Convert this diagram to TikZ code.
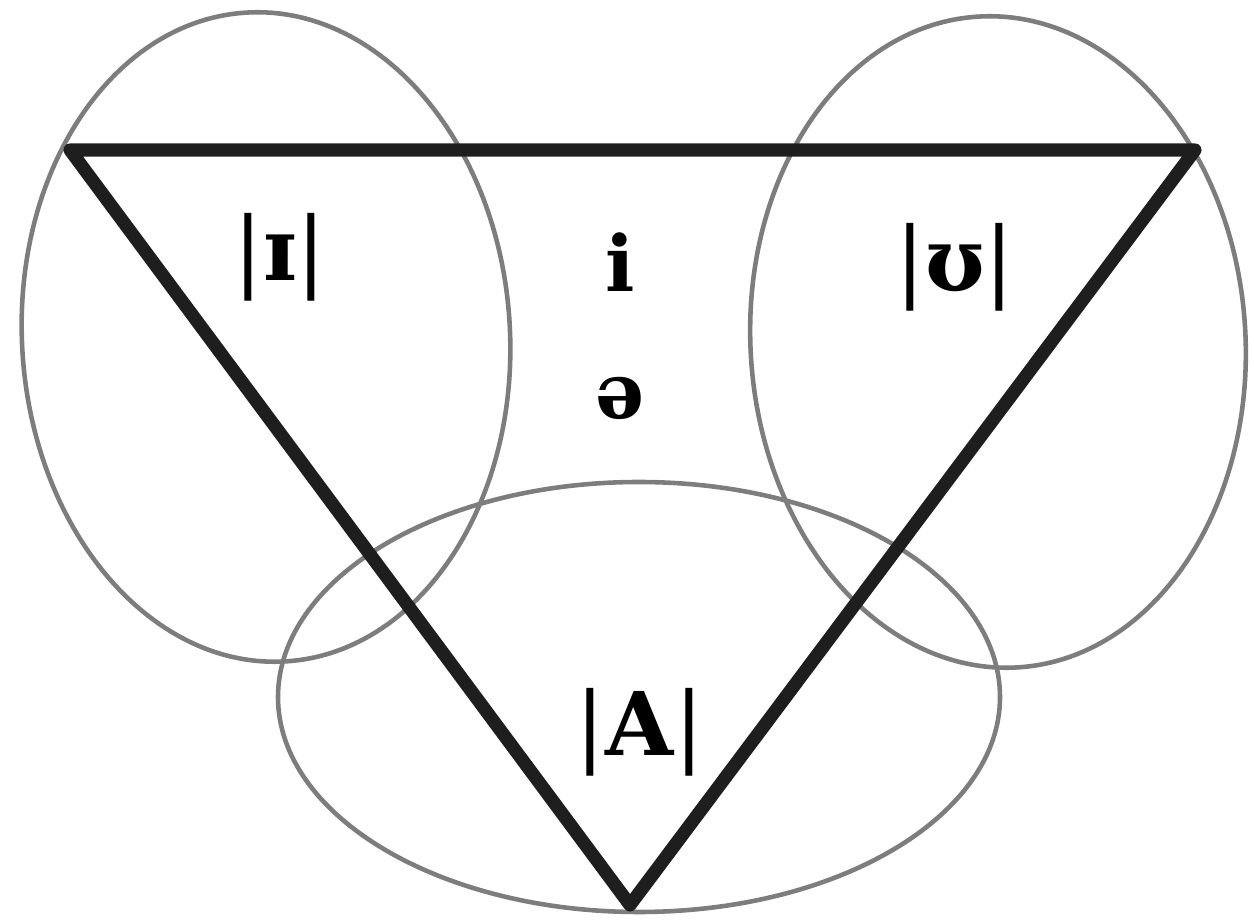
\documentclass[tikz,border=0pt]{standalone}
\usepackage{fontspec}
\setmainfont{DejaVu Serif}
\definecolor{ringgray}{RGB}{125,125,125}
\definecolor{edgeblack}{RGB}{30,30,30}

\begin{document}
\begin{tikzpicture}[
    ring/.style={draw=ringgray, line width=2.6pt},
    edge/.style={draw=edgeblack, line width=7.5pt, line join=round, line cap=round},
    vowel/.style={font=\fontsize{50}{54}\selectfont, inner sep=0pt}
]
    \useasboundingbox (0,0) rectangle (25.08,18.44);
    % the three rings
    \draw[ring, rotate around={3.5:(5.32,11.70)}] (5.32,11.70) ellipse [x radius=4.88, y radius=6.50];
    \draw[ring, rotate around={3.5:(19.96,11.60)}] (19.96,11.60) ellipse [x radius=4.95, y radius=6.52];
    \draw[ring] (12.78,4.50) ellipse [x radius=7.22, y radius=4.30];
    % vowel triangle
    \coordinate (front) at (1.40,15.44);
    \coordinate (back) at (23.90,15.44);
    \coordinate (low) at (12.60,0.34);
    \draw[edge] (front) -- (back) -- (low) -- cycle;
    \node[vowel] (ih) at (5.60,13.30) {|\textbf{ɪ}|};
    \node[vowel] (uh) at (19.10,13.10) {|\textbf{ʊ}|};
    \node[vowel] (ah) at (12.80,3.80) {|\textbf{A}|};
    \node[vowel, font=\fontsize{44}{48}\selectfont\bfseries] (ii) at (12.40,13.20) {i};
    \node[vowel, font=\fontsize{44}{48}\selectfont\bfseries] (schwa) at (12.40,10.48) {ə};
\end{tikzpicture}
\end{document}
